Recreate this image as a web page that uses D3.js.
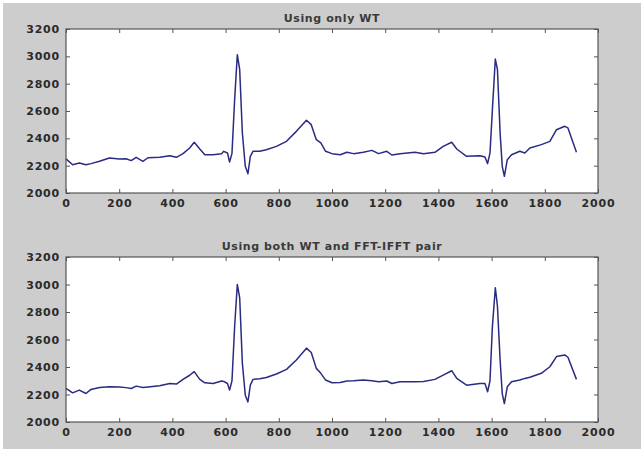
<!DOCTYPE html>
<html>
<head>
<meta charset="utf-8">
<script src="https://cdn.jsdelivr.net/npm/d3@7"></script>
<style>
  html, body { margin: 0; padding: 0; background: #fff; }
  svg { display: block; }
</style>
</head>
<body>
<div id="chart"></div>
<script>
// panel titles
const titles = ["Using only WT", "Using both WT and FFT-IFFT pair"];

// axis ticks
const xTicks = [0, 200, 400, 600, 800, 1000, 1200, 1400, 1600, 1800, 2000];
const yTicks = [2000, 2200, 2400, 2600, 2800, 3000, 3200];

// sample index of each traced point
const sampleX = [0, 25, 50, 75, 94, 126, 163, 201, 226, 245, 264, 289, 308, 352, 390, 415, 440, 465, 482, 503, 522, 553, 585, 593, 607, 615, 624, 634, 644, 653, 663, 674, 684, 693, 703, 728, 753, 791, 829, 866, 904, 922, 941, 958, 976, 1000, 1031, 1056, 1081, 1118, 1150, 1175, 1206, 1225, 1256, 1312, 1344, 1387, 1418, 1450, 1469, 1506, 1556, 1575, 1585, 1594, 1603, 1614, 1622, 1632, 1640, 1648, 1659, 1675, 1706, 1725, 1744, 1787, 1819, 1844, 1875, 1887, 1919];

// signal after WT only
const wtOnly = [2250, 2207, 2220, 2207, 2215, 2232, 2256, 2249, 2251, 2237, 2261, 2232, 2258, 2261, 2273, 2261, 2288, 2329, 2371, 2322, 2280, 2280, 2288, 2305, 2293, 2227, 2290, 2683, 3012, 2902, 2439, 2195, 2141, 2268, 2305, 2305, 2317, 2341, 2378, 2451, 2532, 2500, 2390, 2366, 2305, 2288, 2280, 2298, 2288, 2298, 2312, 2288, 2305, 2278, 2288, 2298, 2288, 2298, 2341, 2371, 2322, 2268, 2273, 2263, 2215, 2293, 2610, 2980, 2902, 2439, 2195, 2122, 2244, 2280, 2305, 2293, 2329, 2354, 2378, 2463, 2488, 2476, 2298];

// signal after WT and FFT-IFFT pair
const wtFft = [2244, 2212, 2232, 2207, 2237, 2251, 2256, 2254, 2250, 2244, 2261, 2251, 2255, 2263, 2280, 2276, 2310, 2340, 2366, 2310, 2285, 2280, 2298, 2295, 2280, 2232, 2300, 2695, 3000, 2902, 2427, 2195, 2146, 2268, 2310, 2315, 2324, 2349, 2383, 2451, 2537, 2505, 2390, 2354, 2305, 2285, 2288, 2298, 2300, 2305, 2300, 2293, 2298, 2280, 2293, 2293, 2295, 2310, 2341, 2373, 2317, 2268, 2280, 2280, 2220, 2300, 2695, 2976, 2842, 2451, 2207, 2134, 2256, 2293, 2305, 2317, 2325, 2354, 2402, 2476, 2488, 2471, 2310];

const series = [wtOnly, wtFft];

const W = 641, H = 449;
const panels = [
  { top: 29, bottom: 193 },
  { top: 257, bottom: 422 }
];
const left = 66, right = 598;

const svg = d3.select("#chart").append("svg")
  .attr("width", W)
  .attr("height", H);

svg.append("rect")
  .attr("x", 3).attr("y", 3)
  .attr("width", W - 3).attr("height", H - 3)
  .attr("fill", "#cdcdcd");

const x = d3.scaleLinear().domain([0, 2000]).range([left, right]);

panels.forEach((p, i) => {
  const y = d3.scaleLinear().domain([2000, 3200]).range([p.bottom, p.top]);
  const g = svg.append("g");

  g.append("rect")
    .attr("x", left).attr("y", p.top)
    .attr("width", right - left).attr("height", p.bottom - p.top)
    .attr("fill", "#fff");

  const line = d3.line()
    .x((d, k) => x(sampleX[k]))
    .y(d => y(d));

  g.append("path")
    .datum(series[i])
    .attr("fill", "none")
    .attr("stroke", "#2b2b80")
    .attr("stroke-width", 1.5)
    .attr("stroke-linejoin", "round")
    .attr("d", line);

  // axes with inward ticks
  const styleAxis = sel => {
    sel.select(".domain").remove();
    sel.selectAll(".tick line").attr("stroke", "#555");
    sel.selectAll("text")
      .attr("fill", "#2a2a2a")
      .style("font-family", "'DejaVu Sans', sans-serif")
      .style("font-weight", "bold")
      .style("font-size", "11px")
      .style("letter-spacing", "0.8px");
  };

  g.append("g")
    .attr("transform", `translate(0,${p.bottom})`)
    .call(d3.axisBottom(x).tickValues(xTicks).tickFormat(d3.format("d")).tickSizeInner(-4).tickSizeOuter(0).tickPadding(6))
    .call(styleAxis);

  g.append("g")
    .attr("transform", `translate(0,${p.top})`)
    .call(d3.axisTop(x).tickValues(xTicks).tickFormat("").tickSizeInner(-4).tickSizeOuter(0))
    .call(styleAxis);

  g.append("g")
    .attr("transform", `translate(${left},0)`)
    .call(d3.axisLeft(y).tickValues(yTicks).tickFormat(d3.format("d")).tickSizeInner(-4).tickSizeOuter(0).tickPadding(6))
    .call(styleAxis);

  g.append("g")
    .attr("transform", `translate(${right},0)`)
    .call(d3.axisRight(y).tickValues(yTicks).tickFormat("").tickSizeInner(-4).tickSizeOuter(0))
    .call(styleAxis);

  g.append("rect")
    .attr("x", left).attr("y", p.top)
    .attr("width", right - left).attr("height", p.bottom - p.top)
    .attr("fill", "none")
    .attr("stroke", "#555")
    .attr("stroke-width", 1.2);

  g.append("text")
    .attr("x", (left + right) / 2)
    .attr("y", p.top - 7)
    .attr("text-anchor", "middle")
    .attr("fill", "#3a3a3a")
    .style("font-family", "'DejaVu Sans', sans-serif")
    .style("font-weight", "bold")
    .style("font-size", "11px")
    .style("letter-spacing", "0.6px")
    .text(titles[i]);
});
</script>
</body>
</html>
